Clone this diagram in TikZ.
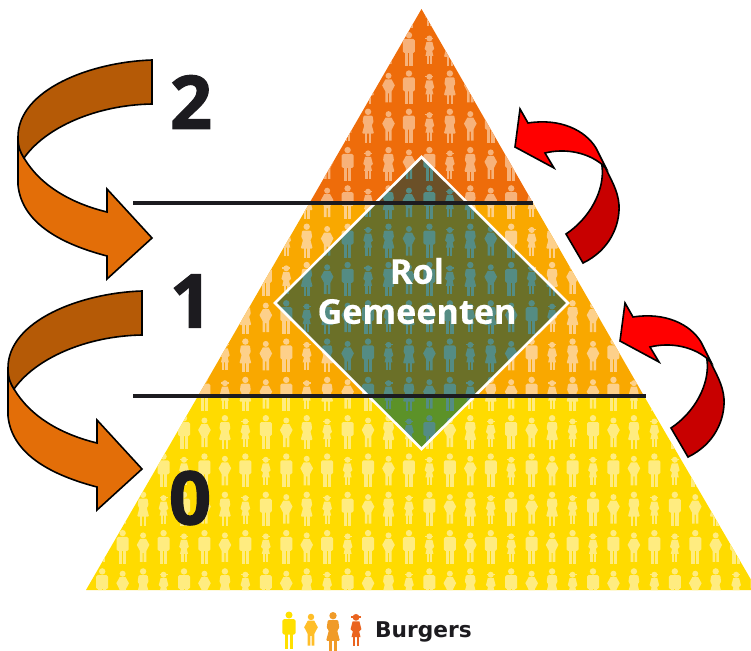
\documentclass[tikz,border=0pt]{standalone}
\usepackage{fontspec}
\setmainfont{Open Sans}
\newfontfamily\heavyfont[BoldFeatures={FakeBold=1.6}]{Open Sans}
\newfontfamily\rolfont[BoldFeatures={FakeBold=0.4}]{Open Sans}
\newfontfamily\burgerfont{DejaVu Sans}
\definecolor{inkdark}{HTML}{1C1B1F}
\definecolor{bandtop}{HTML}{EE6C0A}
\definecolor{bandmid}{HTML}{F9A800}
\definecolor{bandlow}{HTML}{FFDB00}
\definecolor{figtop}{HTML}{F7B27A}
\definecolor{figmid}{HTML}{FDD08A}
\definecolor{figlow}{HTML}{FFEC80}
\definecolor{figteal}{HTML}{548C84}
\definecolor{arrowdark}{HTML}{B55A06}
\definecolor{arroworange}{HTML}{E36E08}
\definecolor{arrowred}{HTML}{FF0000}
\definecolor{arrowcrimson}{HTML}{C80000}
\newcommand\FigMan{%
  \fill[person] (0,3.2) circle (3.2);
  \fill[person,rounded corners=1.5] (-6,7) rectangle (6,21);
  \fill[person] (-3.8,20) rectangle (-0.5,34);
  \fill[person] (0.5,20) rectangle (3.8,34);}
\newcommand\FigHip{%
  \fill[person] (0,5.5) circle (3);
  \fill[person,even odd rule] (-3,9) -- (3,9) -- (6.3,15) -- (3.2,21) -- (3.2,32) -- (0.6,32) -- (0.6,23) -- (-0.6,23) -- (-0.6,32) -- (-3.2,32) -- (-3.2,21) -- (-6.3,15) -- cycle;}
\newcommand\FigWoman{%
  \fill[person] (0,3.2) circle (3.2);
  \fill[person,rounded corners=1] (-4.5,7) -- (4.5,7) -- (5.5,14) -- (3.6,16) -- (6,25) -- (-6,25) -- (-3.6,16) -- (-5.5,14) -- cycle;
  \fill[person] (-3.2,24) rectangle (-0.7,34);
  \fill[person] (0.7,24) rectangle (3.2,34);}
\newcommand\FigGirl{%
  \fill[person] (0,6.5) circle (3);
  \fill[person] (-4,5.6) rectangle (4,6.8);
  \fill[person] (-3,10) -- (3,10) -- (4.8,17) -- (2.8,19) -- (4,24) -- (-4,24) -- (-2.8,19) -- (-4.8,17) -- cycle;
  \fill[person] (-2.6,23) rectangle (-0.5,32);
  \fill[person] (0.5,23) rectangle (2.6,32);}
% #1 first row, #2 last row, #3 first col, #4 last col
\newcommand\FigRows[4]{%
  \foreach \r in {#1,...,#2}{%
    \foreach \k in {#3,...,#4}{%
      \pgfmathsetmacro\fx{184+20.45*(\k-8)}%
      \pgfmathsetmacro\fy{32+38.3*\r}%
      \pgfmathtruncatemacro\rr{\r+1}%
      \pgfmathtruncatemacro\odd{mod(\rr,2)}%
      \begin{scope}[shift={(\fx,\fy)}]
        \ifnum\r<10
          \pgfmathtruncatemacro\idx{mod(\k+int(\rr/4)*3,4)}%
          \ifcase\idx \FigGirl\or \FigWoman\or \FigHip\or \FigMan\fi
        \else
          \pgfmathtruncatemacro\idx{mod(\k,4)}%
          \ifnum\odd=0
            \ifcase\idx \FigGirl\or \FigMan\or \FigHip\or \FigMan\fi
          \else
            \ifcase\idx \FigMan\or \FigHip\or \FigWoman\or \FigGirl\fi
          \fi
        \fi
      \end{scope}
    }}}
\newcommand\LeftArrow{%
  \draw[arrowline,fill=arroworange] (18,137) -- (18,185) .. controls (22,225) and (65,245) .. (107,256) -- (107,279) -- (152,238) -- (107,189) -- (107,212) .. controls (70,203) and (40,185) .. (24,158) .. controls (21,153) and (18,148) .. (18,137) -- cycle;
  \draw[arrowline,fill=arrowdark] (152,60) .. controls (90,62) and (18,90) .. (18,137) .. controls (18,148) and (21,153) .. (24,158) .. controls (45,128) and (95,105) .. (152,104) -- cycle;}
\newcommand\RightArrow{%
  \draw[arrowline,fill=arrowcrimson] (602,166) .. controls (605,190) and (590,218) .. (566,234) -- (583,263) .. controls (610,250) and (620,225) .. (619,205) .. controls (618,190) and (610,178) .. (605,167) -- cycle;
  \draw[arrowline,fill=arrowred] (520,109) -- (528,123) .. controls (560,118) and (585,130) .. (596,148) -- (606,168) .. controls (590,152) and (565,148) .. (545,153) -- (554,168) -- (515,147) -- cycle;}
\tikzset{
  arrowline/.style={draw=black,line width=1.6pt,line join=miter},
  levelline/.style={draw=inkdark,line width=3.4pt},
  levelnum/.style={text=inkdark,font=\heavyfont\fontsize{74}{74}\selectfont\bfseries,inner sep=0pt},
  rolltext/.style={text=white,font=\rolfont\fontsize{34.2}{40}\selectfont\bfseries,align=center,inner sep=0pt},
}
\begin{document}
\begin{tikzpicture}[x=1pt,y=-1pt]
\useasboundingbox (0,0) rectangle (751,650);
% bands
\fill[bandtop] (421.5,9) -- (533,203) -- (309.5,203) -- cycle;
\fill[bandmid] (309.5,203) -- (533,203) -- (644,396) -- (198,396) -- cycle;
\fill[bandlow] (198,396) -- (644,396) -- (757,590) -- (86,590) -- cycle;
\begin{scope}
  \clip (421.5,9) -- (533,203) -- (309.5,203) -- cycle;
  \tikzset{person/.style={fill=figtop}}
  \FigRows{-1}{4}{13}{26}
\end{scope}
\begin{scope}
  \clip (309.5,203) -- (533,203) -- (644,396) -- (198,396) -- cycle;
  \tikzset{person/.style={fill=figmid}}
  \FigRows{3}{9}{7}{32}
\end{scope}
\begin{scope}
  \clip (198,396) -- (644,396) -- (757,590) -- (86,590) -- cycle;
  \tikzset{person/.style={fill=figlow}}
  \FigRows{8}{14}{1}{38}
\end{scope}
% diamond
\begin{scope}
  \clip (421.5,157) -- (568,303) -- (421.5,449) -- (275,303) -- cycle;
  \fill[fill={rgb,255:red,107;green,80;blue,40}] (260,140) rectangle (580,203);
  \fill[fill={rgb,255:red,107;green,112;blue,40}] (260,203) rectangle (580,396);
  \fill[fill={rgb,255:red,92;green,146;blue,40}] (260,396) rectangle (580,460);
  \tikzset{person/.style={fill=figteal}}
  \FigRows{2}{10}{11}{28}
\end{scope}
\draw[white,line width=2.6pt,line join=miter] (421.5,157) -- (568,303) -- (421.5,449) -- (275,303) -- cycle;
% level lines
\coordinate (l1a) at (133,203); \coordinate (l1b) at (533,203);
\coordinate (l2a) at (133,396); \coordinate (l2b) at (646,396);
\draw[levelline] (l1a) -- (l1b);
\draw[levelline] (l2a) -- (l2b);
% arrows
\LeftArrow
\begin{scope}[shift={(-10,231)}]\LeftArrow\end{scope}
\RightArrow
\begin{scope}[shift={(105,194)}]\RightArrow\end{scope}
% labels
\node[levelnum] (two) at (191,102) {2};
\node[levelnum] (one) at (191,301) {1};
\node[levelnum] (zero) at (190,498) {0};
\node[rolltext] (rol) at (417,291) {Rol\\Gemeenten};
% legend
\begin{scope}[shift={(289,611.5)},scale=1.1]\tikzset{person/.style={fill={rgb,255:red,255;green,224;blue,0}}}\FigMan\end{scope}
\begin{scope}[shift={(311,611)},scale=1.08]\tikzset{person/.style={fill={rgb,255:red,255;green,190;blue,40}}}\FigHip\end{scope}
\begin{scope}[shift={(333,612)},scale=1.15]\tikzset{person/.style={fill={rgb,255:red,240;green,155;blue,40}}}\FigWoman\end{scope}
\begin{scope}[shift={(356,610)},scale=1.13]\tikzset{person/.style={fill={rgb,255:red,234;green,100;blue,32}}}\FigGirl\end{scope}
\node[anchor=west,inner sep=0pt,text=inkdark,font=\burgerfont\bfseries\fontsize{21.7}{24}\selectfont] (burgers) at (375,632) {Burgers};
\end{tikzpicture}
\end{document}
